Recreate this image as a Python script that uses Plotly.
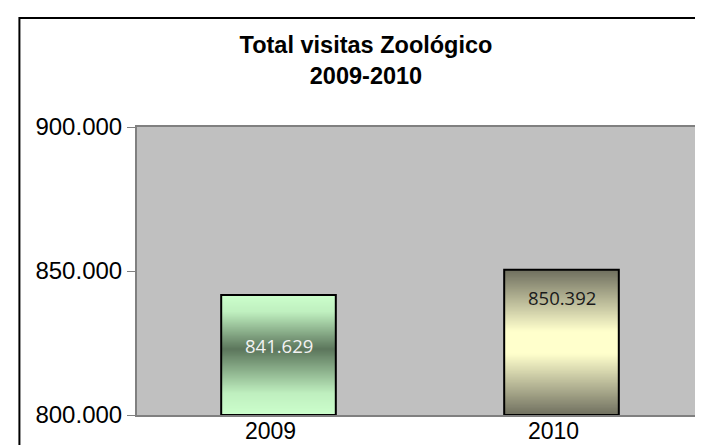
import base64
import struct
import zlib

import plotly.graph_objects as go

# ---- data ----
years = ["2009", "2010"]
visits = [841629, 850392]
value_labels = ["841.629", "850.392"]
y_tick_vals = [800000, 850000, 900000]
y_tick_text = ["800.000", "850.000", "900.000"]
title_lines = ["Total visitas Zoológico", "2009-2010"]

# ---- styles ----
bar_width = 0.405
bar_gradients = [
    [(0, "#CCFFCC"), (0.14, "#BFEFBF"), (0.45, "#5C765C"), (0.82, "#BFEFBF"), (1, "#CCFFCC")],
    [(0, "#717160"), (0.2, "#B5B595"), (0.42, "#FFFFCC"), (0.58, "#FFFFCC"), (0.8, "#B5B595"), (1, "#717160")],
]
label_colors = ["#F2F2F2", "#1A1A1A"]
label_shift = [-50, -28]

axis_min, axis_max = y_tick_vals[0], y_tick_vals[-1]
xpos = list(range(len(years)))


def hex_rgb(h):
    h = h.lstrip("#")
    return tuple(int(h[k:k + 2], 16) for k in (0, 2, 4))


def gradient_png(stops, rows=128):
    """1-pixel-wide vertical gradient image (top -> bottom) as a data URI."""
    raw = b""
    for r in range(rows):
        t = r / (rows - 1)
        for (p0, c0), (p1, c1) in zip(stops[:-1], stops[1:]):
            if p0 <= t <= p1:
                f = 0 if p1 == p0 else (t - p0) / (p1 - p0)
                a, b = hex_rgb(c0), hex_rgb(c1)
                px = bytes(round(a[k] + (b[k] - a[k]) * f) for k in range(3))
                break
        raw += b"\x00" + px

    def chunk(tag, data):
        c = tag + data
        return struct.pack(">I", len(data)) + c + struct.pack(">I", zlib.crc32(c) & 0xFFFFFFFF)

    png = b"\x89PNG\r\n\x1a\n"
    png += chunk(b"IHDR", struct.pack(">IIBBBBB", 1, rows, 8, 2, 0, 0, 0))
    png += chunk(b"IDAT", zlib.compress(raw))
    png += chunk(b"IEND", b"")
    return "data:image/png;base64," + base64.b64encode(png).decode()


fig = go.Figure()

fig.add_trace(go.Bar(
    x=xpos, y=[v - axis_min for v in visits], base=[axis_min] * len(visits),
    width=bar_width,
    marker=dict(color="rgba(0,0,0,0)", line=dict(color="black", width=2)),
    showlegend=False, hoverinfo="skip",
))

images = []
for i, v in enumerate(visits):
    images.append(dict(
        source=gradient_png(bar_gradients[i]),
        xref="x", yref="y",
        x=xpos[i] - bar_width / 2, y=v,
        sizex=bar_width, sizey=v - axis_min,
        xanchor="left", yanchor="top",
        sizing="stretch", layer="below",
    ))
    fig.add_annotation(
        x=xpos[i], y=v, yshift=label_shift[i], yanchor="middle",
        text=value_labels[i], showarrow=False,
        font=dict(family="Open Sans", size=18.5, color=label_colors[i]),
    )

fig.update_layout(
    width=703, height=445,
    margin=dict(l=129, r=6, t=119, b=38),
    paper_bgcolor="white", plot_bgcolor="#C0C0C0",
    font=dict(family="Liberation Sans, Arial", color="black"),
    images=images,
    title=dict(
        text="<br>".join(title_lines),
        font=dict(size=23.5, family="Liberation Sans, Arial", color="black", weight="bold"),
        x=358 / 703, xref="container", xanchor="center",
        y=1 - 45 / 445, yref="container", yanchor="top",
    ),
    xaxis=dict(
        range=[-0.5, len(years) - 0.5],
        tickvals=xpos, ticktext=years,
        showgrid=False, zeroline=False,
        showline=True, mirror=True, linecolor="#808080", linewidth=2,
        ticks="", tickfont=dict(size=23),
        ticklabelshift=-8, ticklabelstandoff=-6,
    ),
    yaxis=dict(
        range=[axis_min, axis_max],
        tickvals=y_tick_vals, ticktext=y_tick_text,
        showgrid=False, zeroline=False,
        showline=True, mirror=True, linecolor="#808080", linewidth=2,
        ticks="outside", ticklen=8, tickcolor="#808080", tickwidth=1,
        tickfont=dict(size=24),
    ),
    shapes=[dict(
        type="rect", xref="paper", yref="paper",
        x0=(11 - 129) / 568, x1=1.2, y0=-0.4, y1=1 + (119 - 10) / 288,
        line=dict(color="black", width=2), fillcolor="rgba(0,0,0,0)",
        layer="above",
    )],
)

fig.write_html("out.html")
